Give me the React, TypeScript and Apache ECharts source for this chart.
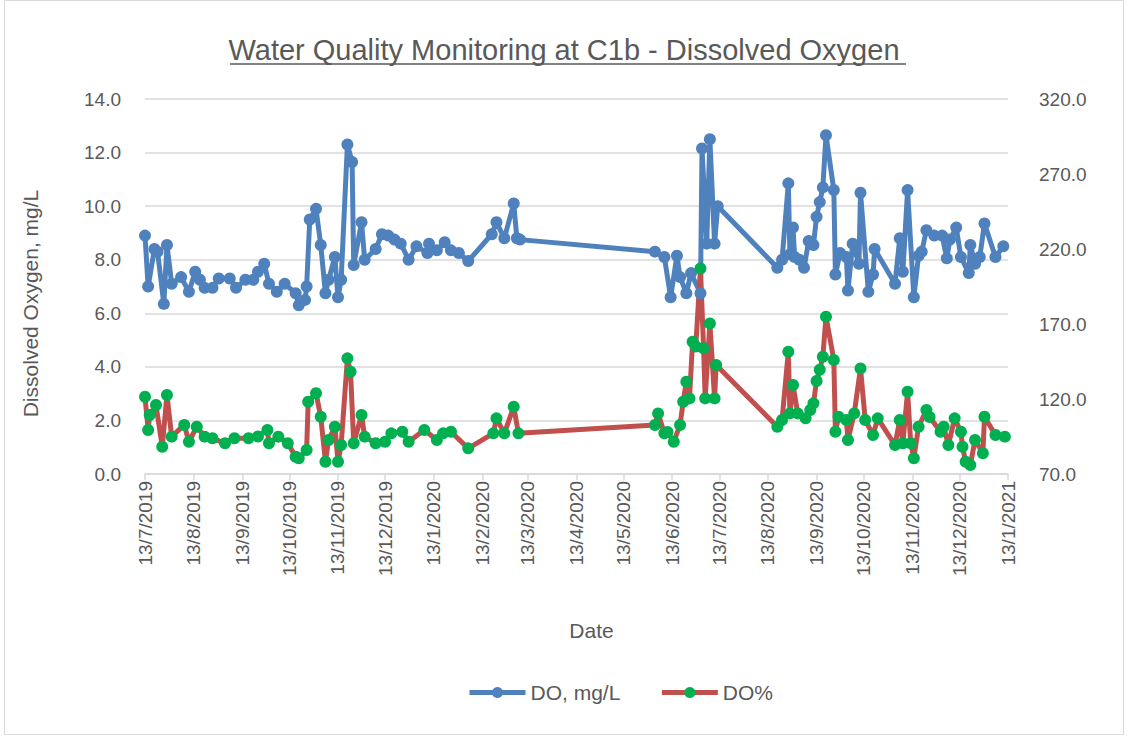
import React, { useEffect, useRef } from "react";
import * as echarts from "echarts";

const TITLE = "Water Quality Monitoring at C1b - Dissolved Oxygen";
const Y_LEFT_NAME = "Dissolved Oxygen, mg/L";
const X_NAME = "Date";
const SERIES_NAMES = ["DO, mg/L", "DO%"];

const doDates = [
  "2019-07-13", "2019-07-15", "2019-07-19", "2019-07-21", "2019-07-25", "2019-07-27", "2019-07-30",
  "2019-08-05", "2019-08-10", "2019-08-14", "2019-08-17", "2019-08-20", "2019-08-25", "2019-08-29",
  "2019-09-05", "2019-09-09", "2019-09-15", "2019-09-20", "2019-09-23", "2019-09-27", "2019-09-30",
  "2019-10-05", "2019-10-10", "2019-10-17", "2019-10-19", "2019-10-23", "2019-10-24", "2019-10-26",
  "2019-10-30", "2019-11-02", "2019-11-05", "2019-11-07", "2019-11-11", "2019-11-13", "2019-11-15",
  "2019-11-19", "2019-11-22", "2019-11-23", "2019-11-28", "2019-11-30", "2019-12-07", "2019-12-11",
  "2019-12-15", "2019-12-19", "2019-12-23", "2019-12-28", "2020-01-02", "2020-01-09", "2020-01-10",
  "2020-01-15", "2020-01-20", "2020-01-24", "2020-01-29", "2020-02-04", "2020-02-19", "2020-02-22",
  "2020-02-27", "2020-03-04", "2020-03-06", "2020-03-08", "2020-06-02", "2020-06-08", "2020-06-12",
  "2020-06-16", "2020-06-18", "2020-06-22", "2020-06-25", "2020-07-01", "2020-07-02", "2020-07-05",
  "2020-07-07", "2020-07-10", "2020-07-12", "2020-08-19", "2020-08-22", "2020-08-26", "2020-08-27",
  "2020-08-29", "2020-08-30", "2020-09-02", "2020-09-05", "2020-09-08", "2020-09-11", "2020-09-13",
  "2020-09-15", "2020-09-17", "2020-09-19", "2020-09-24", "2020-09-25", "2020-09-28", "2020-10-02",
  "2020-10-03", "2020-10-06", "2020-10-10", "2020-10-11", "2020-10-16", "2020-10-19", "2020-10-20",
  "2020-11-02", "2020-11-05", "2020-11-07", "2020-11-10", "2020-11-14", "2020-11-17", "2020-11-19",
  "2020-11-22", "2020-11-27", "2020-12-02", "2020-12-05", "2020-12-07", "2020-12-11", "2020-12-14",
  "2020-12-19", "2020-12-20", "2020-12-23", "2020-12-26", "2020-12-29", "2021-01-05", "2021-01-10",
];
const doValues = [
  8.9, 7.0, 8.4, 8.3, 6.35, 8.55, 7.1,
  7.35, 6.8, 7.55, 7.25, 6.95, 6.95, 7.3,
  7.3, 6.95, 7.25, 7.25, 7.55, 7.85, 7.1,
  6.8, 7.1, 6.75, 6.3, 6.5, 7.0, 9.5,
  9.9, 8.55, 6.75, 7.25, 8.1, 6.6, 7.25,
  12.3, 11.65, 7.8, 9.4, 8.0, 8.4, 8.95,
  8.9, 8.75, 8.6, 8.0, 8.5, 8.25, 8.6,
  8.35, 8.65, 8.35, 8.25, 7.95, 8.95, 9.4,
  8.8, 10.1, 8.8, 8.75, 8.3, 8.1, 6.6,
  8.15, 7.35, 6.75, 7.5, 6.75, 12.15, 8.6,
  12.5, 8.6, 10.0, 7.7, 8.0, 10.85, 8.2,
  9.2, 8.1, 8.0, 7.7, 8.7, 8.55, 9.6,
  10.15, 10.7, 12.65, 10.6, 7.45, 8.25, 8.1,
  6.85, 8.6, 7.85, 10.5, 6.8, 7.45, 8.4,
  7.1, 8.8, 7.55, 10.6, 6.6, 8.15, 8.3,
  9.1, 8.9, 8.9, 8.05, 8.75, 9.2, 8.1,
  7.5, 8.55, 7.85, 8.1, 9.35, 8.1, 8.5,
];

const pctDates = [
  "2019-07-13", "2019-07-15", "2019-07-16", "2019-07-20", "2019-07-24", "2019-07-27", "2019-07-30",
  "2019-08-07", "2019-08-10", "2019-08-15", "2019-08-20", "2019-08-25", "2019-09-02", "2019-09-08",
  "2019-09-17", "2019-09-23", "2019-09-29", "2019-09-30", "2019-10-06", "2019-10-12", "2019-10-17",
  "2019-10-19", "2019-10-24", "2019-10-25", "2019-10-30", "2019-11-02", "2019-11-05", "2019-11-07",
  "2019-11-11", "2019-11-13", "2019-11-15", "2019-11-19", "2019-11-21", "2019-11-23", "2019-11-28",
  "2019-11-30", "2019-12-07", "2019-12-13", "2019-12-17", "2019-12-24", "2019-12-28", "2020-01-07",
  "2020-01-15", "2020-01-19", "2020-01-24", "2020-02-04", "2020-02-20", "2020-02-22", "2020-02-27",
  "2020-03-04", "2020-03-07", "2020-06-02", "2020-06-04", "2020-06-08", "2020-06-10", "2020-06-14",
  "2020-06-18", "2020-06-20", "2020-06-22", "2020-06-24", "2020-06-26", "2020-06-28", "2020-07-01",
  "2020-07-03", "2020-07-04", "2020-07-07", "2020-07-10", "2020-07-11", "2020-08-19", "2020-08-22",
  "2020-08-26", "2020-08-27", "2020-08-29", "2020-09-01", "2020-09-06", "2020-09-09", "2020-09-11",
  "2020-09-13", "2020-09-15", "2020-09-17", "2020-09-19", "2020-09-24", "2020-09-25", "2020-09-27",
  "2020-10-02", "2020-10-03", "2020-10-07", "2020-10-11", "2020-10-14", "2020-10-19", "2020-10-22",
  "2020-11-02", "2020-11-05", "2020-11-07", "2020-11-10", "2020-11-12", "2020-11-14", "2020-11-17",
  "2020-11-22", "2020-11-24", "2020-12-01", "2020-12-03", "2020-12-06", "2020-12-10", "2020-12-14",
  "2020-12-15", "2020-12-17", "2020-12-20", "2020-12-23", "2020-12-28", "2020-12-29", "2021-01-05",
  "2021-01-11",
];
const pctValues = [
  121.5, 99.3, 109.3, 116, 88.2, 122.7, 94.9,
  102.7, 91.5, 101.5, 94.9, 93.8, 90.5, 93.8,
  93.8, 95, 99.3, 90.5, 94.9, 90.5, 81.5,
  80.5, 86, 118.2, 123.8, 108.2, 78.2, 92.7,
  101.5, 78.2, 89.3, 147.1, 138.2, 90.5, 109.3,
  94.9, 90.5, 91.5, 97.1, 98.2, 91.5, 99.3,
  92.7, 97.1, 98.2, 87.1, 97.1, 107.1, 97.1,
  114.9, 97.1, 102.7, 110.4, 97.1, 98, 91.5,
  102.7, 118.2, 131.5, 120.4, 158.2, 155, 207,
  153.8, 120.4, 170.4, 120.4, 142.7, 101.5, 106,
  151.5, 110.4, 129.3, 110.4, 107.1, 112.7, 117.1,
  132, 139.5, 148.2, 174.9, 146, 98.2, 108.2,
  106, 92.7, 110.4, 140.4, 106, 96, 107.1,
  89.3, 106, 90.5, 124.9, 90.5, 80.5, 101.5,
  112.7, 108, 98.2, 101.5, 89.3, 107.1, 98.2,
  88.2, 78.2, 76, 92.7, 83.8, 108.2, 96,
  94.9,
];

const xTickDates = [
  "2019-07-13", "2019-08-13", "2019-09-13", "2019-10-13", "2019-11-13", "2019-12-13",
  "2020-01-13", "2020-02-13", "2020-03-13", "2020-04-13", "2020-05-13", "2020-06-13",
  "2020-07-13", "2020-08-13", "2020-09-13", "2020-10-13", "2020-11-13", "2020-12-13",
  "2021-01-13",
];

const leftAxisMin = 0;
const leftAxisMax = 14;
const leftAxisStep = 2;
const rightAxisMin = 70;
const rightAxisMax = 320;
const rightAxisStep = 50;

const toTs = (s: string) => {
  const [y, m, d] = s.split("-").map(Number);
  return Date.UTC(y, m - 1, d);
};

const FONT = "'Liberation Sans', Arial, sans-serif";
const TEXT_COLOR = "#595959";

export default function App() {
  const ref = useRef<HTMLDivElement>(null);
  useEffect(() => {
    document.body.style.margin = "0";
    if (!ref.current) return;
    const chart = echarts.init(ref.current, undefined, { renderer: "svg" });
    const tickTs = xTickDates.map(toTs);
    const labelFor = (v: number) => {
      const d = new Date(v);
      return `${d.getUTCDate()}/${d.getUTCMonth() + 1}/${d.getUTCFullYear()}`;
    };
    chart.setOption({
      animation: false,
      backgroundColor: "#ffffff",
      textStyle: { fontFamily: FONT },
      title: {
        text: TITLE,
        left: "center",
        top: 30,
        textStyle: { fontFamily: FONT, fontSize: 29, fontWeight: "normal", color: TEXT_COLOR },
      },
      legend: {
        top: 677,
        left: 462,
        itemWidth: 56,
        itemHeight: 14,
        itemGap: 39,
        lineStyle: { width: 5 },
        textStyle: { fontFamily: FONT, fontSize: 21, color: TEXT_COLOR },
        data: SERIES_NAMES,
      },
      grid: { left: 145, right: 120, top: 99, bottom: 262, containLabel: false },
      xAxis: {
        type: "value",
        min: tickTs[0],
        max: tickTs[tickTs.length - 1],
        name: X_NAME,
        nameLocation: "middle",
        nameGap: 146,
        nameTextStyle: { fontFamily: FONT, fontSize: 21, color: TEXT_COLOR, padding: [0, 0, 0, 30] },
        axisLine: { show: true, onZero: false, lineStyle: { color: "#d9d9d9", width: 1.5 } },
        axisTick: { show: true, customValues: tickTs, length: 6, lineStyle: { color: "#d9d9d9", width: 1.5 } },
        axisLabel: {
          customValues: tickTs,
          rotate: 90,
          fontFamily: FONT,
          fontSize: 19,
          color: TEXT_COLOR,
          margin: 7,
          hideOverlap: false,
          showMinLabel: true,
          showMaxLabel: true,
          formatter: (v: number) => labelFor(v),
        },
        splitLine: { show: false },
      },
      yAxis: [
        {
          type: "value",
          min: leftAxisMin,
          max: leftAxisMax,
          interval: leftAxisStep,
          name: Y_LEFT_NAME,
          nameLocation: "middle",
          nameGap: 104,
          nameTextStyle: { fontFamily: FONT, fontSize: 21, color: TEXT_COLOR, padding: [0, 34, 0, 0] },
          axisLine: { show: false },
          axisTick: { show: false },
          axisLabel: {
            fontFamily: FONT,
            fontSize: 19,
            color: TEXT_COLOR,
            margin: 24,
            formatter: (v: number) => v.toFixed(1),
          },
          splitLine: { show: true, lineStyle: { color: "#d9d9d9", width: 1.5 } },
        },
        {
          type: "value",
          min: rightAxisMin,
          max: rightAxisMax,
          interval: rightAxisStep,
          axisLine: { show: false },
          axisTick: { show: false },
          axisLabel: {
            fontFamily: FONT,
            fontSize: 19,
            color: TEXT_COLOR,
            margin: 31,
            formatter: (v: number) => v.toFixed(1),
          },
          splitLine: { show: false },
        },
      ],
      graphic: [
        {
          type: "rect",
          shape: { x: 4.5, y: 0.5, width: 1119, height: 734 },
          style: { fill: "none", stroke: "#d9d9d9", lineWidth: 1 },
          silent: true,
        },
        {
          type: "line",
          shape: { x1: 230, y1: 64, x2: 906, y2: 64 },
          style: { stroke: TEXT_COLOR, lineWidth: 1.5 },
          silent: true,
        },
      ],
      series: [
        {
          name: SERIES_NAMES[0],
          type: "line",
          yAxisIndex: 0,
          data: doDates.map((d, i) => [toTs(d), doValues[i]]),
          symbol: "circle",
          symbolSize: 12,
          showAllSymbol: true,
          lineStyle: { color: "#4f81bd", width: 5 },
          itemStyle: { color: "#4f81bd" },
        },
        {
          name: SERIES_NAMES[1],
          type: "line",
          yAxisIndex: 1,
          data: pctDates.map((d, i) => [toTs(d), pctValues[i]]),
          symbol: "circle",
          symbolSize: 12,
          showAllSymbol: true,
          lineStyle: { color: "#c0504d", width: 5 },
          itemStyle: { color: "#00b050" },
        },
      ],
    });
    return () => chart.dispose();
  }, []);
  return <div ref={ref} style={{ width: 1128, height: 736 }} />;
}
